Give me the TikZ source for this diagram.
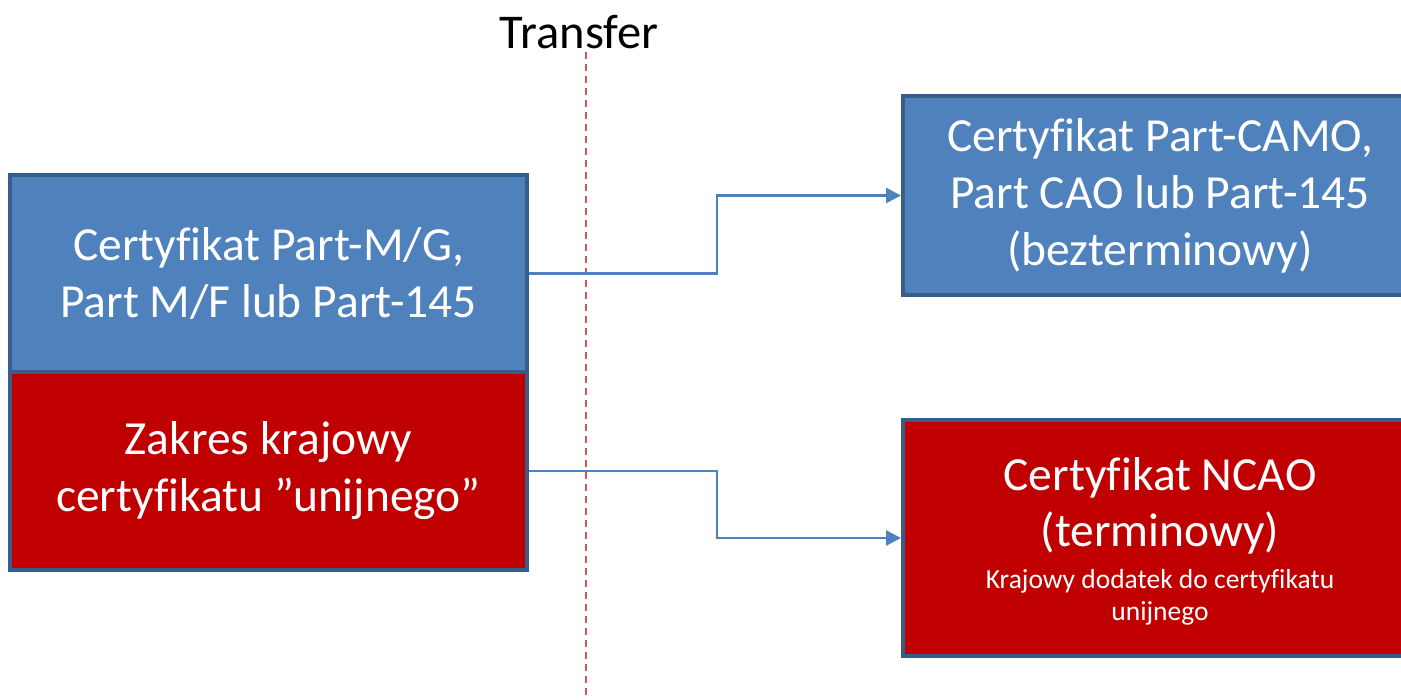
\documentclass[tikz,border=0pt]{standalone}
\usepackage{fontspec}
\setmainfont{Carlito}[Ligatures=NoCommon]
\usetikzlibrary{arrows.meta,calc}
\definecolor{boxblue}{HTML}{4F81BD}
\definecolor{boxborder}{HTML}{385D8A}
\definecolor{boxred}{HTML}{C00000}
\definecolor{dashred}{HTML}{D05A5A}
\tikzset{
  box/.style={draw=boxborder, line width=4pt, text=white, align=center,
    inner sep=0pt, font=\fontsize{47.5}{57}\selectfont},
  bluebox/.style={box, fill=boxblue},
  redbox/.style={box, fill=boxred},
  bigtext/.style={text=white, inner sep=0pt, anchor=base, font=\fontsize{47.5}{57}\selectfont},
  smalltext/.style={text=white, inner sep=0pt, anchor=base, font=\fontsize{27.5}{32}\selectfont},
  conn/.style={draw=boxblue, line width=2.5pt, -{Triangle[length=15pt,width=15pt]}},
}
\begin{document}
\begin{tikzpicture}[x=1pt,y=-1pt]
\clip (0,0) rectangle (1401,700);
\fill[white] (0,0) rectangle (1401,700);
% dashed transfer line
\coordinate (dtop) at (586,52);
\coordinate (dbot) at (586,700);
\draw[dashred, line width=1.5pt, dash pattern=on 7pt off 5pt] (dtop) -- (dbot);
\node (transfer) at (579,32) {\fontsize{48.5}{56}\selectfont Transfer};
% left boxes
\node[bluebox, minimum width=517pt, minimum height=197pt] (lb) at (268.5,273.5)
  {Certyfikat Part-M/G,\\Part M/F lub Part-145};
\node[redbox, minimum width=517pt, minimum height=198pt] (lr) at (268.5,471)
  {Zakres krajowy\\certyfikatu ”unijnego”};
% right boxes
\node[bluebox, minimum width=514pt, minimum height=199pt] (rb) at (1160,195.5)
  {Certyfikat Part-CAMO,\\Part CAO lub Part-145\\(bezterminowy)};
\node[redbox, minimum width=514pt, minimum height=236pt] (rr) at (1160,538) {};
\node[bigtext] (rr1) at (1160,491) {Certyfikat NCAO};
\node[bigtext] (rr2) at (1160,547) {(terminowy)};
\node[smalltext] (rr3) at (1160,588) {Krajowy dodatek do certyfikatu};
\node[smalltext] (rr4) at (1160,620) {unijnego};
% connectors
\draw[conn] (lb.east) -- ++(188,0) |- (rb.west);
\draw[conn] (lr.east) -- ++(188,0) |- (rr.west);
\end{tikzpicture}
\end{document}
